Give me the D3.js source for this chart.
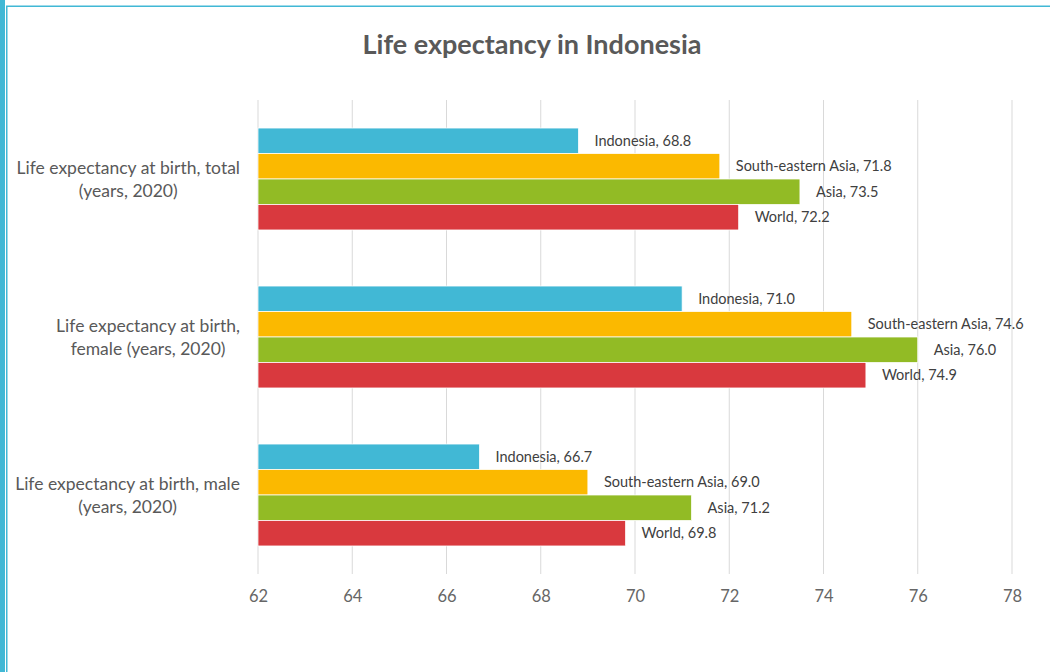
<!DOCTYPE html>
<html><head><meta charset="utf-8">
<script src="https://cdn.jsdelivr.net/npm/d3@7"></script>
<style>body{margin:0;background:#fff;}svg{display:block;font-family:Lato,"Open Sans",sans-serif;}</style>
</head><body>
<svg id="chart" width="1050" height="672"></svg>
<script>
const categories = ["total", "female", "male"];
const categoryLines = [
  ["Life expectancy at birth, total", "(years, 2020)"],
  ["Life expectancy at birth,", "female (years, 2020)"],
  ["Life expectancy at birth, male", "(years, 2020)"]
];
const seriesNames = ["Indonesia", "South-eastern Asia", "Asia", "World"];
const indonesia = [68.8, 71.0, 66.7];
const seAsia = [71.8, 74.6, 69.0];
const asia = [73.5, 76.0, 71.2];
const world = [72.2, 74.9, 69.8];
const xTicks = [62, 64, 66, 68, 70, 72, 74, 76, 78];
const colors = ["#41B8D5", "#FBB900", "#92BB25", "#D9393E"];
const seriesValues = [indonesia, seAsia, asia, world];

const svg = d3.select("#chart");
// frame
svg.append("rect").attr("x",0).attr("y",0).attr("width",5).attr("height",672).attr("fill","#41B8D5");
svg.append("rect").attr("x",6).attr("y",6).attr("width",1.5).attr("height",666).attr("fill","#41B8D5");
svg.append("rect").attr("x",6).attr("y",5.5).attr("width",1044).attr("height",1.5).attr("fill","#41B8D5");

svg.append("text").attr("x",532).attr("y",54).attr("text-anchor","middle")
  .attr("font-size",27).attr("font-weight","bold").attr("fill","#595959")
  .text("Life expectancy in Indonesia");

const x = d3.scaleLinear().domain([62,78]).range([258,1012]);
const y = d3.scaleBand().domain(categories).range([100,574]).padding(0);
const yInner = d3.scaleBand().domain(seriesNames).range([0, y.bandwidth()]).paddingInner(0).paddingOuter(1.1);

// gridlines
svg.append("g").selectAll("line").data(xTicks).join("line")
  .attr("x1",d=>x(d)).attr("x2",d=>x(d)).attr("y1",100).attr("y2",574)
  .attr("stroke","#d9d9d9").attr("stroke-width",1);

// x axis labels
const xAxis = d3.axisBottom(x).tickValues(xTicks).tickSize(0).tickPadding(0).tickFormat(d3.format("d"));
const gx = svg.append("g").attr("transform","translate(0,590)").call(xAxis);
gx.select(".domain").remove();
gx.selectAll("text").attr("font-size",16.5).attr("fill","#666666").attr("font-family","Lato,'Open Sans',sans-serif");

// bars
const rows = [];
categories.forEach((c,i)=>{
  seriesNames.forEach((s,j)=>{
    rows.push({cat:c, series:s, value:seriesValues[j][i], color:colors[j]});
  });
});
const g = svg.append("g");
g.selectAll("rect").data(rows).join("rect")
  .attr("x", x(62))
  .attr("y", d=>y(d.cat)+yInner(d.series))
  .attr("width", d=>x(d.value)-x(62))
  .attr("height", yInner.bandwidth())
  .attr("fill", d=>d.color)
  .attr("stroke","#fff").attr("stroke-width",0.75);

g.selectAll("text").data(rows).join("text")
  .attr("x", d=>x(d.value)+16)
  .attr("y", d=>y(d.cat)+yInner(d.series)+yInner.bandwidth()/2)
  .attr("dy","0.35em")
  .attr("font-size",14.5).attr("fill","#404040")
  .text(d=>`${d.series}, ${d3.format(".1f")(d.value)}`);

// category labels
const cg = svg.append("g");
categories.forEach((c,i)=>{
  const lines = categoryLines[i];
  const cy = y(c)+y.bandwidth()/2;
  const t = cg.append("g");
  const texts = lines.map((ln,k)=> t.append("text")
    .attr("y", cy + (k - (lines.length-1)/2)*23)
    .attr("dy","0.35em")
    .attr("font-size",17.5).attr("fill","#595959").attr("text-anchor","middle").text(ln));
  const maxW = d3.max(texts, tx=>tx.node().getComputedTextLength());
  texts.forEach(tx=>tx.attr("x", 240 - maxW/2));
});
</script>
</body></html>
